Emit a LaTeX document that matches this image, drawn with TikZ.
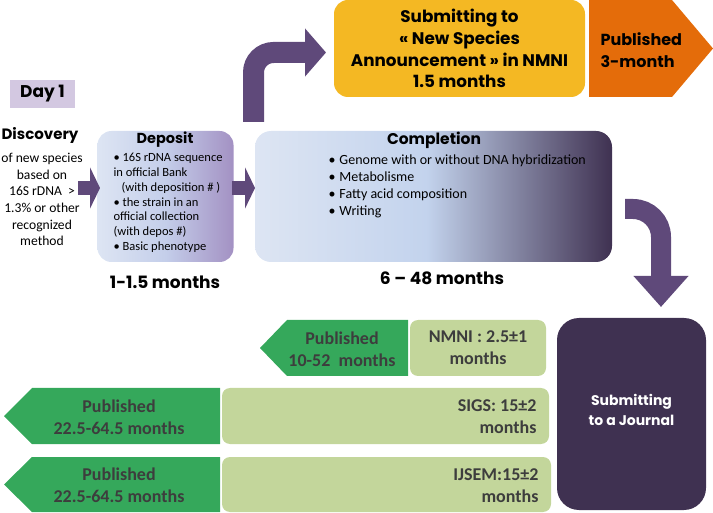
\documentclass[tikz,border=0pt]{standalone}
\usepackage{fontspec}
\setmainfont{Carlito}
\newfontfamily\gothic{Poppins}
\usepackage{tikz}
\usetikzlibrary{positioning,arrows.meta}

\definecolor{arrowpurple}{HTML}{5F497A}
\definecolor{darkpurple}{HTML}{3F3151}
\definecolor{daylilac}{HTML}{D3C8E1}
\definecolor{paleblue}{HTML}{DDE5F3}
\definecolor{depmid}{HTML}{C4CEEA}
\definecolor{depright}{HTML}{A391C3}
\definecolor{midblue}{HTML}{C3D3ED}
\definecolor{gold}{HTML}{F4B823}
\definecolor{darkorange}{HTML}{E46C0A}
\definecolor{pubgreen}{HTML}{35A85B}
\definecolor{palegreen}{HTML}{C3D69B}
\definecolor{greytext}{HTML}{3D3D3D}

\pgfdeclarehorizontalshading{depositshade}{100bp}{color(0bp)=(paleblue); color(25bp)=(paleblue); color(50bp)=(depmid); color(75bp)=(depright); color(100bp)=(depright)}
\pgfdeclarehorizontalshading{completionshade}{100bp}{color(0bp)=(paleblue); color(25bp)=(paleblue); color(49bp)=(midblue); color(75bp)=(darkpurple); color(100bp)=(darkpurple)}

\newcommand{\headfont}[2]{\gothic\bfseries\fontsize{#1}{#2}\selectfont}
\newcommand{\bodyfont}[2]{\fontsize{#1}{#2}\selectfont}

\begin{document}
\begin{tikzpicture}[x=1pt, y=-1pt,
    roundbox/.style={rectangle, rounded corners=#1, inner sep=0pt},
    blockarrow/.style={draw=arrowpurple, line width=#1},
    pubtext/.style={text=greytext, font=\bodyfont{18}{22}\bfseries, align=center},
    timetext/.style={font=\headfont{17}{20}}]
    \useasboundingbox (0,0) rectangle (713,513);

    % day one and discovery
    \node[roundbox=0pt, fill=daylilac, minimum width=65pt, minimum height=28pt, font=\headfont{17}{20}] (day) at (42.5,94) {Day 1};
    \node[font=\headfont{15}{18}] (discovery) at (40,135) {Discovery};
    \node[font=\bodyfont{13.6}{16.7}, align=center, below=3pt of discovery, xshift=2pt] (discoverytext) {of new species\\based on\\16S rDNA\ \ >\\1.3\% or other\\recognized\\method};

    % deposit
    \node[roundbox=14pt, minimum width=136pt, minimum height=131pt, shading=depositshade] (deposit) at (165.5,196.5) {};
    \node[font=\headfont{14.5}{17}] (deposittitle) at (165,140) {Deposit};
    \node[font=\bodyfont{12.5}{14.7}, align=left, anchor=north west] (depositlist) at (110,150) {\textbullet\ 16S rDNA sequence\\in official Bank\\\hspace{8pt}(with deposition \# )\\\textbullet\ the strain in an\\official collection\\(with depos \#)\\\textbullet\ Basic phenotype};
    \node[timetext] (deposittime) at (165,282) {1-1.5 months};

    % completion
    \node[roundbox=16pt, minimum width=357pt, minimum height=131pt, shading=completionshade] (completion) at (433.5,196.5) {};
    \node[font=\headfont{15.5}{18}] (completiontitle) at (434,140) {Completion};
    \node[font=\bodyfont{14}{17}, align=left, anchor=north west] (completionlist) at (325,151) {\textbullet\hspace{4pt}Genome with or without DNA hybridization\\\textbullet\hspace{4pt}Metabolisme\\\textbullet\hspace{4pt}Fatty acid composition\\\textbullet\hspace{4pt}Writing};
    \node[timetext] (completiontime) at (442,278) {6 – 48 months};

    % new species announcement
    \node[roundbox=14pt, fill=gold, minimum width=251pt, minimum height=97pt, font=\headfont{16.8}{21.7}, align=center] (announce) at (459.5,48.5) {Submitting to\\« New Species\\Announcement » in NMNI\\1.5 months};
    \fill[darkorange] (589,0) -- (672,0) -- (713,48.5) -- (672,97) -- (589,97) -- cycle;
    \node[font=\headfont{16}{22}, align=left, anchor=west] (announcepub) at (597,50) {Published\\3-month};

    % journal
    \node[roundbox=22pt, fill=darkpurple, minimum width=149pt, minimum height=192pt] (journal) at (631.5,414) {};
    \node[text=white, font=\headfont{14}{20}, align=center] (journaltext) at (631.5,410) {Submitting\\to a Journal};

    % journal rows
    \fill[pubgreen] (408,320) -- (287,320) -- (260,348) -- (287,376) -- (408,376) -- cycle;
    \node[pubtext] (nmnipub) at (342,349) {Published\\10-52\ \ months};
    \node[roundbox=8pt, fill=palegreen, minimum width=136pt, minimum height=56pt, pubtext] (nmni) at (478,348) {NMNI : 2.5±1\\months};

    \fill[pubgreen] (220,388) -- (32,388) -- (4,416) -- (32,444) -- (220,444) -- cycle;
    \node[pubtext] (sigspub) at (119,417) {Published\\22.5-64.5 months};
    \node[roundbox=8pt, fill=palegreen, minimum width=327pt, minimum height=56pt] (sigs) at (385.5,416) {};
    \node[pubtext, align=right, anchor=east] (sigstext) at (540,417) {SIGS: 15±2\\months};

    \fill[pubgreen] (220,457) -- (32,457) -- (4,484.5) -- (32,512) -- (220,512) -- cycle;
    \node[pubtext] (ijsempub) at (119,485) {Published\\22.5-64.5 months};
    \node[roundbox=8pt, fill=palegreen, minimum width=329pt, minimum height=55pt] (ijsem) at (386.5,484.5) {};
    \node[pubtext, align=right, anchor=east] (ijsemtext) at (542,486) {IJSEM:15±2\\months};

    % block arrows
    \coordinate (a1start) at (78,188);
    \coordinate (a1end) at (100,188);
    \coordinate (a2start) at (232,188);
    \coordinate (a2end) at (255,188);
    \coordinate (upstart) at (253.5,122);
    \coordinate (uptip) at (326,52.5);
    \coordinate (downstart) at (625,209);
    \coordinate (downtip) at (661,307);
    \draw[blockarrow=14pt, -{Triangle[length=10pt, width=41pt, fill=arrowpurple, color=arrowpurple]}] (a1start) -- (a1end);
    \draw[blockarrow=14pt, -{Triangle[length=10pt, width=41pt, fill=arrowpurple, color=arrowpurple]}] (a2start) -- (a2end);
    \draw[blockarrow=21pt, rounded corners=20pt, -{Triangle[length=21pt, width=47pt]}] (upstart) |- (uptip);
    \draw[blockarrow=20pt, rounded corners=28pt, -{Triangle[length=31pt, width=53pt]}] (downstart) -| (downtip);
\end{tikzpicture}
\end{document}
